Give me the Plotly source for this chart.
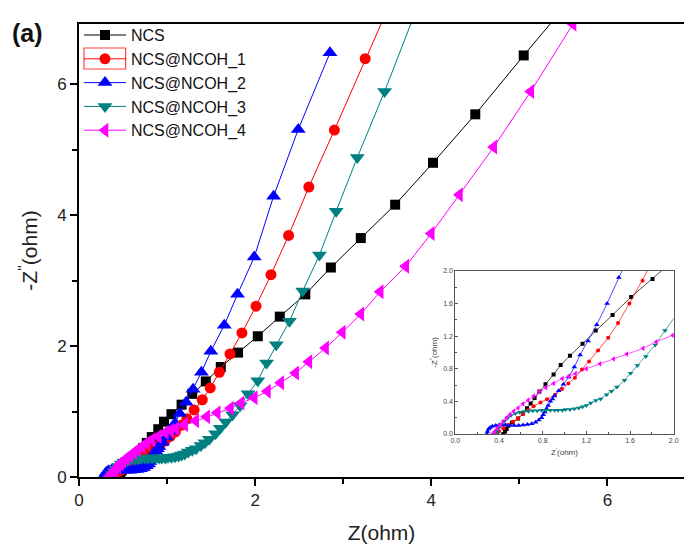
import plotly.graph_objects as go

# ---------------- data ----------------
ncs_x = [0.44, 0.455, 0.47, 0.485, 0.52, 0.575, 0.62, 0.657, 0.69, 0.726, 0.77, 0.826, 0.90, 0.965,
         1.05, 1.165, 1.286, 1.44, 1.61, 1.806, 2.03, 2.28, 2.57, 2.86, 3.20, 3.59, 4.02, 4.50, 5.05, 5.65]
ncs_y = [0.0, 0.03, 0.06, 0.10, 0.14, 0.19, 0.25, 0.315, 0.375, 0.44, 0.52, 0.61, 0.73, 0.845,
         0.96, 1.105, 1.27, 1.46, 1.68, 1.90, 2.15, 2.45, 2.79, 3.20, 3.65, 4.16, 4.80, 5.54, 6.44, 7.40]

n1_x = [0.38, 0.40, 0.44, 0.485, 0.53, 0.575, 0.62, 0.666, 0.717, 0.78, 0.84, 0.914, 0.977, 1.035,
        1.095, 1.16, 1.225, 1.307, 1.40, 1.49, 1.594, 1.715, 1.85, 2.01, 2.18, 2.38, 2.61, 2.90, 3.25, 3.62]
n1_y = [0.0, 0.03, 0.07, 0.11, 0.15, 0.19, 0.245, 0.29, 0.34, 0.385, 0.425, 0.48, 0.55, 0.62,
        0.69, 0.79, 0.89, 1.025, 1.18, 1.36, 1.60, 1.88, 2.20, 2.61, 3.09, 3.69, 4.43, 5.30, 6.39, 7.50]

n2_x = [0.29, 0.295, 0.305, 0.32, 0.34, 0.37, 0.40, 0.43, 0.46, 0.50, 0.54, 0.58, 0.62, 0.66, 0.70,
        0.735, 0.765, 0.79, 0.805, 0.82, 0.835, 0.85, 0.87, 0.89, 0.907, 0.947, 0.99, 1.04, 1.09,
        1.143, 1.216, 1.295, 1.39, 1.497, 1.65, 1.80, 1.99, 2.21, 2.49, 2.85]
n2_y = [0.0, 0.03, 0.06, 0.08, 0.095, 0.105, 0.11, 0.11, 0.11, 0.105, 0.105, 0.105, 0.11, 0.115, 0.125,
        0.145, 0.17, 0.20, 0.235, 0.27, 0.31, 0.35, 0.40, 0.43, 0.465, 0.53, 0.61, 0.70, 0.82,
        0.97, 1.14, 1.34, 1.60, 1.92, 2.32, 2.79, 3.36, 4.29, 5.31, 6.48]

n3_x = [0.37, 0.38, 0.40, 0.42, 0.45, 0.48, 0.51, 0.55, 0.59, 0.63, 0.67, 0.71, 0.75, 0.79, 0.83,
        0.87, 0.91, 0.94, 0.98, 1.01, 1.05, 1.09, 1.13, 1.165, 1.20, 1.24, 1.286, 1.33, 1.385, 1.43,
        1.48, 1.55, 1.605, 1.667, 1.745, 1.83, 1.92, 2.03, 2.13, 2.24, 2.39, 2.54, 2.73, 2.92, 3.16,
        3.47, 3.82]
n3_y = [0.0, 0.04, 0.08, 0.12, 0.16, 0.20, 0.23, 0.25, 0.265, 0.275, 0.28, 0.285, 0.285, 0.29, 0.29,
        0.29, 0.29, 0.29, 0.29, 0.30, 0.30, 0.31, 0.32, 0.335, 0.35, 0.38, 0.41, 0.43, 0.48, 0.525,
        0.575, 0.66, 0.745, 0.84, 0.95, 1.09, 1.27, 1.47, 1.74, 2.02, 2.38, 2.84, 3.39, 4.06, 4.88,
        5.89, 7.10]

n4_x = [0.34, 0.36, 0.385, 0.41, 0.44, 0.47, 0.50, 0.535, 0.575, 0.62, 0.666, 0.717, 0.77, 0.83,
        0.90, 0.98, 1.04, 1.10, 1.20, 1.325, 1.45, 1.57, 1.72, 1.84, 1.99, 2.14, 2.29, 2.46, 2.61,
        2.80, 2.99, 3.20, 3.42, 3.71, 4.00, 4.32, 4.71, 5.13, 5.61, 6.10]
n4_y = [0.0, 0.03, 0.07, 0.11, 0.155, 0.20, 0.24, 0.28, 0.32, 0.37, 0.415, 0.465, 0.52, 0.57,
        0.62, 0.68, 0.71, 0.74, 0.80, 0.86, 0.92, 0.98, 1.05, 1.13, 1.21, 1.31, 1.44, 1.59, 1.76,
        1.97, 2.21, 2.49, 2.83, 3.22, 3.72, 4.31, 5.04, 5.89, 6.92, 7.90]

names = ["NCS", "NCS@NCOH_1", "NCS@NCOH_2", "NCS@NCOH_3", "NCS@NCOH_4"]
xs = [ncs_x, n1_x, n2_x, n3_x, n4_x]
ys = [ncs_y, n1_y, n2_y, n3_y, n4_y]

main_x_ticks = [0, 2, 4, 6]
main_y_ticks = [0, 2, 4, 6]
inset_ticks = [0.0, 0.4, 0.8, 1.2, 1.6, 2.0]

# ---------------- styles ----------------
colors = ["#000000", "#FF0000", "#0000FF", "#008080", "#FF00FF"]
symbols = ["square", "circle", "triangle-up", "triangle-down", "triangle-left"]
main_sizes = [10, 11, 13, 13, 13]
inset_sizes = [4, 4, 5, 5, 5]

fig = go.Figure()
for n, x, y, c, s, ms in zip(names, xs, ys, colors, symbols, main_sizes):
    fig.add_trace(go.Scatter(x=x, y=y, name=n, mode="lines+markers",
                             line=dict(color=c, width=1),
                             marker=dict(symbol=s, size=ms, color=c, line=dict(width=0)),
                             xaxis="x", yaxis="y"))
for n, x, y, c, s, ms in zip(names, xs, ys, colors, symbols, inset_sizes):
    fig.add_trace(go.Scatter(x=x, y=y, name=n, mode="lines+markers", showlegend=False,
                             line=dict(color=c, width=0.7),
                             marker=dict(symbol=s, size=ms, color=c, line=dict(width=0)),
                             xaxis="x2", yaxis="y2"))

font_main = "Arial, Liberation Sans, sans-serif"

fig.update_layout(
    width=689, height=545,
    margin=dict(l=79, r=0, t=24, b=68),
    paper_bgcolor="white", plot_bgcolor="white",
    showlegend=True,
    legend=dict(x=0.0, y=1.013, xanchor="left", yanchor="top", itemwidth=42,
                font=dict(family=font_main, size=16, color="#111"),
                bgcolor="rgba(0,0,0,0)", tracegroupgap=0),
    xaxis=dict(range=[0, 6.87], domain=[0, 1], showgrid=False, zeroline=False,
               showline=True, linecolor="black", linewidth=2, mirror=True,
               ticks="outside", ticklen=7, tickwidth=2, tickcolor="black",
               tickvals=main_x_ticks, tickfont=dict(family=font_main, size=17, color="#222"),
               minor=dict(dtick=1, ticks="outside", ticklen=5, tickwidth=2, tickcolor="black"),
               title=dict(text="Z(ohm)", font=dict(family=font_main, size=21, color="#222"),
                          standoff=16)),
    yaxis=dict(range=[0, 6.92], domain=[0, 1], showgrid=False, zeroline=False,
               showline=True, linecolor="black", linewidth=2,
               ticks="outside", ticklen=7, tickwidth=2, tickcolor="black",
               tickvals=main_y_ticks, tickfont=dict(family=font_main, size=17, color="#222"),
               minor=dict(dtick=1, ticks="outside", ticklen=5, tickwidth=2, tickcolor="black"),
               title=dict(text="-Z<sup>''</sup>(ohm)", font=dict(family=font_main, size=21, color="#222"),
                          standoff=14)),
    xaxis2=dict(range=[0, 2.0], domain=[0.622, 0.983], anchor="y2", showgrid=False, zeroline=False,
                showline=True, linecolor="#555", linewidth=1, mirror=True,
                ticks="inside", ticklen=3, tickwidth=1, tickcolor="#555",
                tickvals=inset_ticks, tickformat=".1f",
                tickfont=dict(family=font_main, size=7, color="#444"),
                minor=dict(dtick=0.2, ticks="inside", ticklen=2, tickwidth=1, tickcolor="#555"),
                title=dict(text="Z<sup>'</sup>(ohm)", font=dict(family=font_main, size=8, color="#444"),
                           standoff=6)),
    yaxis2=dict(range=[0, 2.0], domain=[0.095, 0.455], anchor="x2", showgrid=False, zeroline=False,
                showline=True, linecolor="#555", linewidth=1, mirror=True,
                ticks="inside", ticklen=3, tickwidth=1, tickcolor="#555",
                tickvals=inset_ticks, tickformat=".1f",
                tickfont=dict(family=font_main, size=7, color="#444"),
                minor=dict(dtick=0.2, ticks="inside", ticklen=2, tickwidth=1, tickcolor="#555"),
                title=dict(text="-Z<sup>''</sup>(ohm)", font=dict(family=font_main, size=8, color="#444"),
                           standoff=4)),
    annotations=[dict(text="<b>(a)</b>", xref="paper", yref="paper", x=-0.085, y=0.98,
                      xanchor="center", yanchor="middle", showarrow=False,
                      font=dict(family=font_main, size=25, color="#111"))],
    shapes=[dict(type="rect", xref="paper", yref="paper", x0=0.0082, x1=0.077,
                 y0=0.9007, y1=0.947, line=dict(color="#FF4040", width=1.2),
                 fillcolor="rgba(0,0,0,0)")],
)

fig.write_html("out.html", config={"displayModeBar": False},
               post_script="document.body.style.margin='0px';")
